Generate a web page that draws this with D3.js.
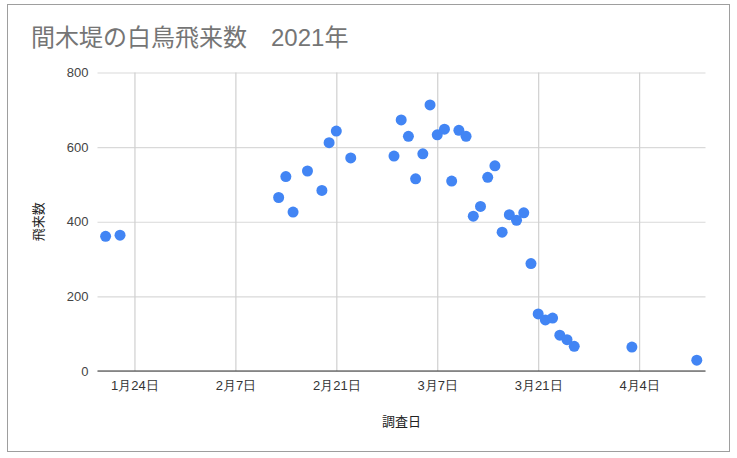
<!DOCTYPE html>
<html><head><meta charset="utf-8">
<script src="https://cdn.jsdelivr.net/npm/d3@7"></script>
<style>
html,body{margin:0;padding:0;background:#fff;}
svg{display:block;font-family:Arial,"Liberation Sans","Noto Sans CJK JP",sans-serif;}
</style></head>
<body>
<svg id="c" width="737" height="458"></svg>
<script>
const title = "間木堤の白鳥飛来数　2021年";
const xTitle = "調査日";
const yTitle = "飛来数";
const dates = ["2021-01-20","2021-01-22","2021-02-13","2021-02-14","2021-02-15","2021-02-17","2021-02-19","2021-02-20","2021-02-21","2021-02-23","2021-03-01","2021-03-02","2021-03-03","2021-03-04","2021-03-05","2021-03-06","2021-03-07","2021-03-08","2021-03-09","2021-03-10","2021-03-11","2021-03-12","2021-03-13","2021-03-14","2021-03-15","2021-03-16","2021-03-17","2021-03-18","2021-03-19","2021-03-20","2021-03-21","2021-03-22","2021-03-23","2021-03-24","2021-03-25","2021-03-26","2021-04-03","2021-04-12"];
const counts = [361,364,465,521,426,536,484,612,643,571,576,673,629,515,582,713,633,648,509,645,629,415,441,519,550,372,419,404,424,288,153,137,142,96,84,66,64,29];
const xTickDates = ["2021-01-24","2021-02-07","2021-02-21","2021-03-07","2021-03-21","2021-04-04"];
const xTickLabels = ["1月24日","2月7日","2月21日","3月7日","3月21日","4月4日"];
const yTicks = [0,200,400,600,800];
const xDomain = ["2021-01-18T21:00","2021-04-13T05:00"];

const parse = s => new Date(s.length > 10 ? s : s + "T00:00");
const svg = d3.select("#c");
const L = 97.5, R = 705.5, T = 72.5, B = 371;

svg.append("rect").attr("x",7.5).attr("y",4.5).attr("width",722).attr("height",447)
  .attr("fill","#fff").attr("stroke","#9e9e9e").attr("stroke-width",1);

const x = d3.scaleTime().domain(xDomain.map(parse)).range([L,R]);
const y = d3.scaleLinear().domain([0,800]).range([B,T]);

// horizontal grid
const gy = svg.append("g").attr("transform",`translate(${L},0)`)
  .call(d3.axisLeft(y).tickValues(yTicks).tickSize(-(R-L)).tickPadding(9).tickFormat(d3.format("d")));
gy.select(".domain").remove();
gy.selectAll(".tick line").attr("stroke","#d9d9d9").attr("stroke-width",1.2);
gy.selectAll(".tick text").attr("fill","#444").attr("font-size",13).attr("font-family","Arial,'Liberation Sans',sans-serif");

// vertical grid + labels
const gx = svg.append("g").attr("transform",`translate(0,${B})`)
  .call(d3.axisBottom(x).tickValues(xTickDates.map(parse)).tickSize(-(B-T)).tickPadding(10)
    .tickFormat((d,i)=>xTickLabels[i]));
gx.select(".domain").remove();
gx.selectAll(".tick line").attr("stroke","#d0d0d0").attr("stroke-width",1.2);
gx.selectAll(".tick text").attr("fill","#333").attr("font-size",13);

// baseline
svg.append("line").attr("x1",L).attr("x2",R).attr("y1",y(0)).attr("y2",y(0))
  .attr("stroke","#333").attr("stroke-width",1.2);

// points
svg.append("g").selectAll("circle").data(dates.map((d,i)=>({d:parse(d),v:counts[i]})))
  .join("circle").attr("cx",p=>x(p.d)).attr("cy",p=>y(p.v)).attr("r",5.5).attr("fill","#4285f4");

// titles
svg.append("text").attr("x",31).attr("y",46).attr("font-size",24).attr("fill","#757575").text(title);
svg.append("text").attr("x",(L+R)/2).attr("y",426).attr("text-anchor","middle").attr("font-size",13).attr("fill","#222").text(xTitle);
svg.append("text").attr("transform",`translate(43,${(T+B)/2}) rotate(-90)`).attr("text-anchor","middle")
  .attr("font-size",13).attr("fill","#222").text(yTitle);
</script>
</body></html>
